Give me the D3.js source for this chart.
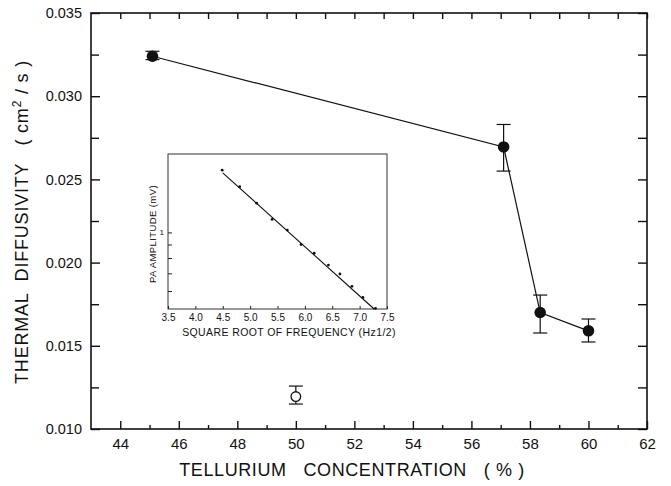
<!DOCTYPE html>
<html>
<head>
<meta charset="utf-8">
<script src="https://cdn.jsdelivr.net/npm/d3@7"></script>
<style>
  body { margin: 0; background: #fff; }
  svg { display: block; }
  text { font-family: 'Liberation Sans', Arial, sans-serif; fill: #111; }
</style>
</head>
<body>
<div id="chart"></div>
<script>
// main plot: tellurium % vs thermal diffusivity
const tellurium = [45.1, 57.1, 58.35, 60.0];
const diffusivity = [0.0324, 0.02695, 0.0170, 0.0159];
const errLow = [0.0322, 0.0255, 0.01577, 0.01523];
const errHigh = [0.0327, 0.0283, 0.01805, 0.01661];

// the lone open point
const openX = [50.0];
const openY = [0.01195];
const openLow = [0.0115];
const openHigh = [0.01258];

const xMajorTicks = [44, 46, 48, 50, 52, 54, 56, 58, 60, 62];
const xMinorTicks = [45, 47, 49, 51, 53, 55, 57, 59, 61];
const yMajorTicks = [0.010, 0.015, 0.020, 0.025, 0.030, 0.035];
const yMinorTicks = [0.0125, 0.0175, 0.0225, 0.0275, 0.0325];

// inset: PA amplitude vs sqrt(frequency)
const sqrtFreq = [4.49, 4.81, 5.12, 5.40, 5.68, 5.93, 6.17, 6.43, 6.64, 6.86, 7.06, 7.29];
const paAmplitude = [1.72, 1.49, 1.29, 1.12, 1.02, 0.90, 0.834, 0.752, 0.696, 0.625, 0.567, 0.516];
const fitX = [4.5, 7.27];
const fitY = [1.68, 0.512];
const insetXTicks = [3.5, 4.0, 4.5, 5.0, 5.5, 6.0, 6.5, 7.0, 7.5];
const insetYTicks = [1, 0.9, 0.8, 0.7, 0.6];

const width = 671, height = 486;
const svg = d3.select('#chart').append('svg')
    .attr('width', width)
    .attr('height', height);

const x = d3.scaleLinear().domain([43, 62]).range([91, 647]);
const y = d3.scaleLinear().domain([0.010, 0.035]).range([429, 13]);

const plot = svg.append('g');

// ticks, all pointing inward
function noLabels(g) { g.selectAll('text').remove(); g.select('.domain').remove(); }

plot.append('g')
    .attr('transform', `translate(0,${y.range()[0]})`)
    .call(d3.axisBottom(x).tickValues(xMajorTicks).tickSizeInner(-8).tickSizeOuter(0).tickPadding(9).tickFormat(d3.format('d')))
    .call(g => g.select('.domain').remove())
    .call(g => g.selectAll('text').attr('font-size', 15).attr('font-family', "'Liberation Sans', Arial, sans-serif"));

plot.append('g')
    .attr('transform', `translate(0,${y.range()[0]})`)
    .call(d3.axisBottom(x).tickValues(xMinorTicks).tickSizeInner(-4).tickSizeOuter(0))
    .call(noLabels);

plot.append('g')
    .attr('transform', `translate(0,${y.range()[1]})`)
    .call(d3.axisTop(x).tickValues(xMajorTicks.concat(xMinorTicks)).tickSizeInner(-6).tickSizeOuter(0))
    .call(noLabels);

plot.append('g')
    .attr('transform', `translate(${x.range()[0]},0)`)
    .call(d3.axisLeft(y).tickValues(yMajorTicks).tickSizeInner(-9).tickSizeOuter(0).tickPadding(9).tickFormat(d3.format('.3f')))
    .call(g => g.select('.domain').remove())
    .call(g => g.selectAll('text').attr('font-size', 14.5).attr('font-family', "'Liberation Sans', Arial, sans-serif"));

plot.append('g')
    .attr('transform', `translate(${x.range()[0]},0)`)
    .call(d3.axisLeft(y).tickValues(yMinorTicks).tickSizeInner(-8).tickSizeOuter(0))
    .call(noLabels);

plot.append('g')
    .attr('transform', `translate(${x.range()[1]},0)`)
    .call(d3.axisRight(y).tickValues(yMajorTicks.concat(yMinorTicks)).tickSizeInner(-9).tickSizeOuter(0))
    .call(noLabels);

plot.selectAll('.tick line').attr('stroke', '#111').attr('stroke-width', 1.4);

// frame
plot.append('rect')
    .attr('x', x.range()[0])
    .attr('y', y.range()[1])
    .attr('width', x.range()[1] - x.range()[0])
    .attr('height', y.range()[0] - y.range()[1])
    .attr('fill', 'none')
    .attr('stroke', '#111')
    .attr('stroke-width', 1.6);

// connecting line
const pts = tellurium.map((t, i) => ({ t, d: diffusivity[i], lo: errLow[i], hi: errHigh[i] }));
plot.append('path')
    .datum(pts)
    .attr('fill', 'none')
    .attr('stroke', '#111')
    .attr('stroke-width', 1.2)
    .attr('d', d3.line().x(d => x(d.t)).y(d => y(d.d)));

function errorBars(g, data, cap) {
    const eb = g.selectAll(null).data(data).enter().append('g')
        .attr('stroke', '#111').attr('stroke-width', 1.2);
    eb.append('line')
        .attr('x1', d => x(d.t)).attr('x2', d => x(d.t))
        .attr('y1', d => y(d.lo)).attr('y2', d => y(d.hi));
    eb.append('line')
        .attr('x1', d => x(d.t) - cap).attr('x2', d => x(d.t) + cap)
        .attr('y1', d => y(d.lo)).attr('y2', d => y(d.lo));
    eb.append('line')
        .attr('x1', d => x(d.t) - cap).attr('x2', d => x(d.t) + cap)
        .attr('y1', d => y(d.hi)).attr('y2', d => y(d.hi));
}

errorBars(plot, pts, 7);

plot.selectAll('.dot')
    .data(pts)
    .enter().append('circle')
    .attr('class', 'dot')
    .attr('cx', d => x(d.t))
    .attr('cy', d => y(d.d))
    .attr('r', 5.8)
    .attr('fill', '#111');

const openPts = openX.map((t, i) => ({ t, d: openY[i], lo: openLow[i], hi: openHigh[i] }));
errorBars(plot, openPts, 7);
plot.selectAll('.open')
    .data(openPts)
    .enter().append('circle')
    .attr('class', 'open')
    .attr('cx', d => x(d.t))
    .attr('cy', d => y(d.d))
    .attr('r', 4.8)
    .attr('fill', '#fff')
    .attr('stroke', '#111')
    .attr('stroke-width', 1.3);

// axis titles
const yTitle = svg.append('text')
    .attr('transform', 'translate(28,222) rotate(-90)')
    .attr('text-anchor', 'middle')
    .attr('font-size', 18)
    .attr('letter-spacing', 0.8)
    .style('white-space', 'pre');
yTitle.append('tspan').text('THERMAL  DIFFUSIVITY   ( cm');
yTitle.append('tspan').attr('dy', -7).attr('font-size', 12).text('2');
yTitle.append('tspan').attr('dy', 7).text(' / s )');

svg.append('text')
    .attr('x', 352)
    .attr('y', 476)
    .attr('text-anchor', 'middle')
    .attr('font-size', 18)
    .attr('letter-spacing', 0.6)
    .style('white-space', 'pre')
    .text('TELLURIUM   CONCENTRATION   ( % )');

// inset
const ix = d3.scaleLinear().domain([3.5, 7.5]).range([168, 387]);
const iy = d3.scaleLog().domain([0.513, 1.98]).range([309, 154]);
const inset = svg.append('g');

inset.append('rect')
    .attr('x', ix.range()[0])
    .attr('y', iy.range()[1])
    .attr('width', ix.range()[1] - ix.range()[0])
    .attr('height', iy.range()[0] - iy.range()[1])
    .attr('fill', '#fff')
    .attr('stroke', '#333')
    .attr('stroke-width', 1);

inset.append('g')
    .attr('transform', `translate(0,${iy.range()[0]})`)
    .call(d3.axisBottom(ix).tickValues(insetXTicks).tickSizeInner(-3).tickSizeOuter(0).tickPadding(5).tickFormat(d3.format('.1f')))
    .call(g => g.select('.domain').remove())
    .call(g => g.selectAll('text').attr('font-size', 10).attr('font-family', "'Liberation Sans', Arial, sans-serif"));

inset.append('g')
    .attr('transform', `translate(${ix.range()[0]},0)`)
    .call(d3.axisLeft(iy).tickValues(insetYTicks).tickSizeInner(-4).tickSizeOuter(0).tickPadding(4)
        .tickFormat(d => d === 1 ? '1' : ''))
    .call(g => g.select('.domain').remove())
    .call(g => g.selectAll('text').attr('font-size', 8).attr('font-family', "'Liberation Sans', Arial, sans-serif"));

inset.selectAll('.tick line').attr('stroke', '#222').attr('stroke-width', 1);

inset.append('path')
    .datum(fitX.map((v, i) => [v, fitY[i]]))
    .attr('fill', 'none')
    .attr('stroke', '#111')
    .attr('stroke-width', 1.1)
    .attr('d', d3.line().x(d => ix(d[0])).y(d => iy(d[1])));

inset.selectAll('.idot')
    .data(sqrtFreq.map((v, i) => [v, paAmplitude[i]]))
    .enter().append('circle')
    .attr('class', 'idot')
    .attr('cx', d => ix(d[0]))
    .attr('cy', d => iy(d[1]))
    .attr('r', 1.4)
    .attr('fill', '#111');

svg.append('text')
    .attr('transform', 'translate(156,234) rotate(-90)')
    .attr('text-anchor', 'middle')
    .attr('font-size', 9.5)
    .attr('letter-spacing', 0.4)
    .text('PA  AMPLITUDE (mV)');

svg.append('text')
    .attr('x', 289)
    .attr('y', 336)
    .attr('text-anchor', 'middle')
    .attr('font-size', 10.5)
    .attr('letter-spacing', 0.4)
    .text('SQUARE ROOT OF FREQUENCY (Hz1/2)');
</script>
</body>
</html>
